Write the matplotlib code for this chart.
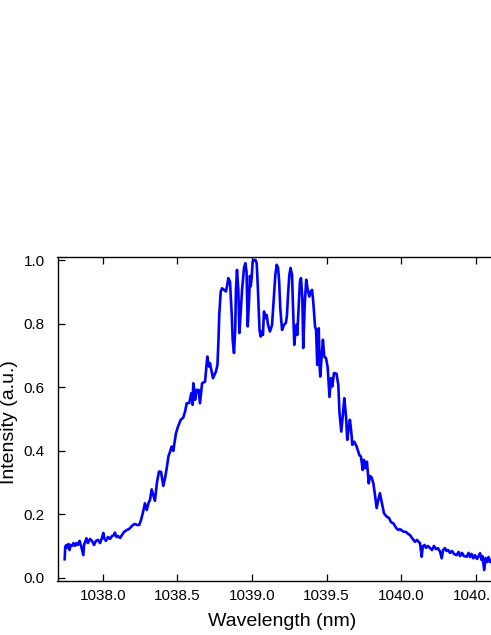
import matplotlib
matplotlib.use("Agg")
import matplotlib.pyplot as plt

wavelength_nm = [
    1037.745, 1037.749, 1037.757, 1037.764, 1037.771, 1037.778, 1037.784, 1037.794,
    1037.804, 1037.814, 1037.824, 1037.834, 1037.845, 1037.855, 1037.870, 1037.875,
    1037.885, 1037.891, 1037.901, 1037.915, 1037.928, 1037.942, 1037.955, 1037.969,
    1037.982, 1037.995, 1038.004, 1038.012, 1038.022, 1038.036, 1038.049, 1038.062,
    1038.076, 1038.082, 1038.092, 1038.103, 1038.116, 1038.129, 1038.143, 1038.161,
    1038.176, 1038.190, 1038.203, 1038.216, 1038.230, 1038.245, 1038.257, 1038.270,
    1038.283, 1038.295, 1038.307, 1038.317, 1038.328, 1038.339, 1038.350, 1038.364,
    1038.377, 1038.391, 1038.406, 1038.418, 1038.429, 1038.441, 1038.451, 1038.462,
    1038.473, 1038.483, 1038.491, 1038.505, 1038.523, 1038.540, 1038.552, 1038.563,
    1038.580, 1038.594, 1038.603, 1038.607, 1038.614, 1038.619, 1038.630, 1038.643,
    1038.652, 1038.666, 1038.686, 1038.701, 1038.712, 1038.719, 1038.739, 1038.759,
    1038.769, 1038.776, 1038.781, 1038.791, 1038.800, 1038.813, 1038.826, 1038.835,
    1038.842, 1038.853, 1038.865, 1038.871, 1038.880, 1038.888, 1038.893, 1038.900,
    1038.909, 1038.916, 1038.922, 1038.934, 1038.947, 1038.956, 1038.964, 1038.968,
    1038.972, 1038.981, 1038.987, 1038.992, 1038.999, 1039.005, 1039.014, 1039.024,
    1039.032, 1039.039, 1039.046, 1039.051, 1039.059, 1039.068, 1039.074, 1039.081,
    1039.090, 1039.099, 1039.108, 1039.121, 1039.135, 1039.141, 1039.150, 1039.157,
    1039.166, 1039.175, 1039.182, 1039.190, 1039.202, 1039.215, 1039.228, 1039.235,
    1039.242, 1039.251, 1039.259, 1039.269, 1039.275, 1039.284, 1039.292, 1039.299,
    1039.304, 1039.314, 1039.322, 1039.329, 1039.338, 1039.344, 1039.354, 1039.364,
    1039.376, 1039.385, 1039.394, 1039.403, 1039.409, 1039.416, 1039.423, 1039.430,
    1039.438, 1039.448, 1039.454, 1039.458, 1039.468, 1039.476, 1039.485, 1039.497,
    1039.508, 1039.520, 1039.530, 1039.539, 1039.550, 1039.567, 1039.579, 1039.587,
    1039.599, 1039.611, 1039.619, 1039.631, 1039.639, 1039.649, 1039.657, 1039.666,
    1039.673, 1039.686, 1039.702, 1039.720, 1039.731, 1039.743, 1039.751, 1039.760,
    1039.771, 1039.783, 1039.791, 1039.801, 1039.814, 1039.825, 1039.836, 1039.847,
    1039.858, 1039.872, 1039.885, 1039.903, 1039.919, 1039.932, 1039.948, 1039.966,
    1039.981, 1039.992, 1040.015, 1040.033, 1040.046, 1040.060, 1040.073, 1040.093,
    1040.106, 1040.127, 1040.138, 1040.145, 1040.157, 1040.167, 1040.180, 1040.194,
    1040.207, 1040.220, 1040.234, 1040.247, 1040.261, 1040.272, 1040.281, 1040.294,
    1040.304, 1040.316, 1040.328, 1040.341, 1040.354, 1040.372, 1040.385, 1040.395,
    1040.408, 1040.421, 1040.440, 1040.452, 1040.462, 1040.472, 1040.484, 1040.495,
    1040.509, 1040.519, 1040.529, 1040.539, 1040.545, 1040.557, 1040.566, 1040.576,
    1040.586, 1040.596, 1040.602, 1040.620,
]

intensity = [
    0.058, 0.098, 0.103, 0.094, 0.106, 0.087, 0.103, 0.100,
    0.109, 0.100, 0.109, 0.103, 0.116, 0.100, 0.071, 0.103,
    0.116, 0.124, 0.109, 0.122, 0.116, 0.103, 0.116, 0.119,
    0.109, 0.125, 0.141, 0.122, 0.116, 0.128, 0.122, 0.131,
    0.134, 0.142, 0.128, 0.131, 0.125, 0.134, 0.144, 0.150,
    0.153, 0.160, 0.166, 0.169, 0.166, 0.166, 0.182, 0.206,
    0.234, 0.213, 0.235, 0.245, 0.278, 0.260, 0.242, 0.301,
    0.334, 0.333, 0.289, 0.314, 0.345, 0.383, 0.396, 0.413,
    0.399, 0.431, 0.455, 0.476, 0.497, 0.504, 0.523, 0.549,
    0.550, 0.581, 0.544, 0.612, 0.591, 0.560, 0.591, 0.591,
    0.549, 0.612, 0.617, 0.696, 0.665, 0.675, 0.628, 0.649,
    0.670, 0.749, 0.827, 0.901, 0.911, 0.906, 0.901, 0.922,
    0.943, 0.932, 0.827, 0.749, 0.707, 0.780, 0.906, 0.969,
    0.906, 0.770, 0.812, 0.906, 0.975, 0.990, 0.963, 0.875,
    0.791, 0.875, 0.950, 0.917, 0.947, 0.995, 1.000, 1.000,
    0.990, 0.922, 0.843, 0.780, 0.759, 0.775, 0.764, 0.838,
    0.817, 0.827, 0.796, 0.775, 0.796, 0.838, 0.906, 0.953,
    0.985, 0.976, 0.938, 0.849, 0.780, 0.796, 0.802, 0.827,
    0.890, 0.953, 0.975, 0.953, 0.859, 0.733, 0.775, 0.796,
    0.764, 0.859, 0.932, 0.943, 0.880, 0.723, 0.859, 0.938,
    0.901, 0.885, 0.901, 0.906, 0.880, 0.838, 0.791, 0.780,
    0.670, 0.785, 0.665, 0.633, 0.701, 0.749, 0.696, 0.691,
    0.661, 0.569, 0.628, 0.602, 0.644, 0.642, 0.607, 0.519,
    0.460, 0.519, 0.565, 0.507, 0.434, 0.472, 0.497, 0.459,
    0.418, 0.428, 0.413, 0.386, 0.381, 0.339, 0.371, 0.345,
    0.365, 0.297, 0.320, 0.317, 0.297, 0.260, 0.219, 0.245,
    0.266, 0.234, 0.203, 0.192, 0.188, 0.175, 0.171, 0.157,
    0.150, 0.153, 0.145, 0.144, 0.138, 0.134, 0.125, 0.113,
    0.119, 0.108, 0.066, 0.098, 0.103, 0.094, 0.100, 0.093,
    0.087, 0.100, 0.090, 0.093, 0.082, 0.061, 0.087, 0.093,
    0.084, 0.087, 0.078, 0.084, 0.075, 0.071, 0.081, 0.068,
    0.078, 0.068, 0.066, 0.078, 0.065, 0.075, 0.061, 0.071,
    0.059, 0.068, 0.077, 0.056, 0.068, 0.024, 0.062, 0.049,
    0.065, 0.049, 0.056, 0.060,
]

x_ticks = [1038.0, 1038.5, 1039.0, 1039.5, 1040.0, 1040.5]
y_ticks = [0.0, 0.2, 0.4, 0.6, 0.8, 1.0]
x_tick_labels = ["1038.0", "1038.5", "1039.0", "1039.5", "1040.0", "1040.5"]
y_tick_labels = ["0.0", "0.2", "0.4", "0.6", "0.8", "1.0"]

plt.rcParams['font.family'] = ['Liberation Sans', 'DejaVu Sans']

W, H = 491, 635
fig = plt.figure(figsize=(W / 100, H / 100), dpi=100)
left_px, right_px, top_px, bottom_px = 57.5, 496.0, 256.7, 580.7
ax = fig.add_axes([left_px / W, 1 - bottom_px / H,
                   (right_px - left_px) / W, (bottom_px - top_px) / H])

ax.plot(wavelength_nm, intensity, color='#0000ff', linewidth=1.9,
        solid_joinstyle='round')

ax.set_xlim(1037.697, 1040.636)
ax.set_ylim(-0.0095, 1.0104)
ax.set_xticks(x_ticks)
ax.set_xticklabels(x_tick_labels)
ax.set_yticks(y_ticks)
ax.set_yticklabels(y_tick_labels)

for s in ax.spines.values():
    s.set_linewidth(1.0)
    s.set_color('black')

ax.tick_params(axis='x', direction='in', top=True, bottom=True, length=5,
               width=0.9, labelsize=11, pad=6)
ax.tick_params(axis='y', direction='in', left=True, right=False, length=5,
               width=0.9, labelsize=11, pad=9)

ax.set_xlabel("Wavelength (nm)", fontsize=14)
ax.set_ylabel("Intensity (a.u.)", fontsize=14)
ax.xaxis.set_label_coords((282.5 - left_px) / (right_px - left_px),
                          (bottom_px - 613.0) / (bottom_px - top_px))
ax.yaxis.set_label_coords((18.5 - left_px) / (right_px - left_px), 0.49)

fig.savefig("out.png", dpi=100)
